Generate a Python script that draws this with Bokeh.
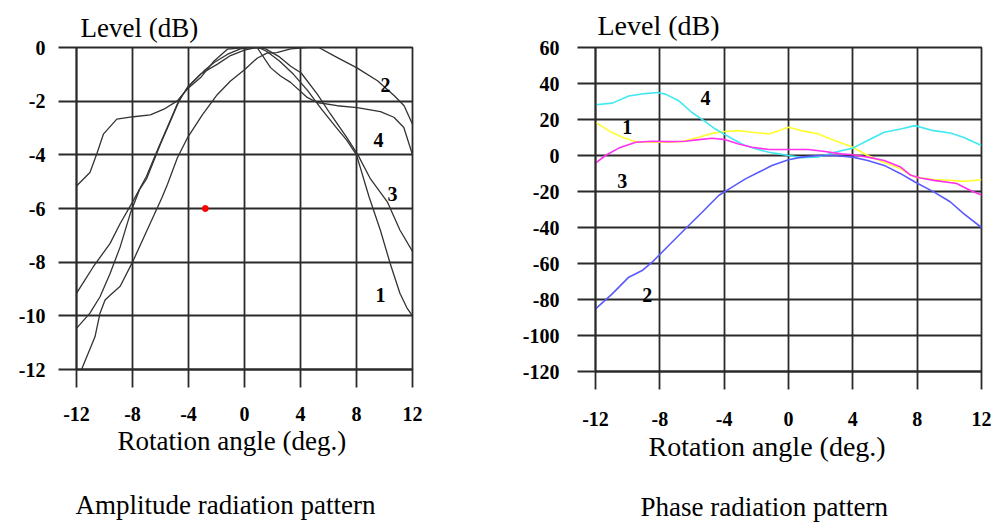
from bokeh.plotting import figure
from bokeh.layouts import row
from bokeh.models import FixedTicker, Range1d, Title, Label
from bokeh.embed import file_html
from bokeh.resources import INLINE

FONT = "Liberation Serif"

# ---------------- data: amplitude radiation pattern ----------------
x_ticks = [-12, -8, -4, 0, 4, 8, 12]
amp_ticks = [-12, -10, -8, -6, -4, -2, 0]

amp1_x = [-12, -11.04, -10.32, -9.6, -8.88, -8.16, -7.5, -7.0, -6.0, -5.28, -4.57, -3.85, -2.89, -2.17,
          -1.2, -0.3, 0.5, 1.0, 1.6, 2.5, 3.5, 4.5, 5.5, 6.5, 7.3, 8.0, 8.9, 9.7, 10.4, 11.1, 11.6, 12]
amp1_y = [-10.47, -9.9, -9.29, -8.42, -7.43, -6.19, -5.3, -4.9, -3.6, -2.73, -1.86, -1.37, -0.87, -0.56,
          -0.25, -0.05, 0.0, 0.0, -0.15, -0.5, -1.0, -1.6, -2.3, -2.95, -3.45, -4.0, -5.57, -6.8, -8.04, -9.16, -9.7, -10.0]

amp2_x = [-11.64, -10.68, -10.32, -9.96, -9.6, -8.88, -8.0, -6.96, -5.9, -5.5, -4.8, -4.09, -3.0, -1.95,
          -1.0, 0.0, 0.9, 1.6, 2.3, 3.3, 4.5, 5.3, 6.6, 8.0, 9.5, 10.7, 11.4, 12]
amp2_y = [-12.0, -10.78, -9.9, -9.41, -9.23, -8.9, -8.0, -6.81, -5.6, -5.1, -4.12, -3.38, -2.5, -1.76,
          -1.25, -0.83, -0.4, -0.21, -0.19, -0.05, 0.0, 0.0, -0.37, -0.75, -1.24, -1.8, -2.17, -2.86]

amp3_x = [-12, -10.8, -9.6, -8.88, -7.92, -7.0, -6.24, -5.52, -4.8, -4.09, -3.13, -1.93, -1.0, 0.0, 0.8,
          1.5, 2.5, 3.3, 4.05, 5.2, 6.1, 7.3, 8.1, 9.0, 10.2, 11.1, 12]
amp3_y = [-9.16, -8.17, -7.3, -6.56, -5.69, -4.8, -3.85, -2.98, -2.11, -1.49, -0.99, -0.62, -0.3, -0.1, 0.0,
          -0.05, -0.35, -0.7, -0.95, -1.74, -2.45, -3.35, -4.0, -4.9, -5.75, -6.8, -7.6]

amp4_x = [-12, -11.04, -10.56, -10.08, -9.12, -7.92, -6.72, -5.76, -4.8, -4.09, -3.13, -2.17, -1.2, 0.0,
          0.9, 1.86, 2.57, 3.29, 4.48, 5.19, 6.62, 8.05, 9.71, 10.67, 11.38, 12]
amp4_y = [-5.16, -4.66, -3.98, -3.23, -2.67, -2.58, -2.51, -2.3, -1.99, -1.55, -1.12, -0.5, -0.06, 0.0,
          0.0, -0.75, -1.06, -1.3, -1.86, -2.05, -2.17, -2.24, -2.39, -2.6, -2.98, -4.0]

amp_marker_x = [-2.8]
amp_marker_y = [-6.0]

amp_label_text = ["2", "4", "3", "1"]
amp_label_x = [10.07, 9.57, 10.57, 9.71]
amp_label_y = [-1.38, -3.46, -5.47, -9.24]

# ---------------- data: phase radiation pattern ----------------
ph_ticks = [-120, -100, -80, -60, -40, -20, 0, 20, 40, 60]

ph1_x = [-12, -11.17, -10.34, -9.5, -8.48, -7.65, -6.62, -5.58, -4.75, -3.93, -3.1, -2.27, -1.23, -0.6, 0,
         0.82, 1.85, 2.87, 4.0, 4.92, 5.95, 6.97, 7.86, 9.03, 10.05, 10.87, 12]
ph1_y = [18.4, 13.8, 10.1, 7.7, 7.4, 7.4, 7.7, 10.1, 12.3, 13.3, 13.8, 12.9, 12.0, 13.8, 15.7,
         13.8, 12.0, 8.3, 4.6, 0.0, -3.7, -7.4, -12.0, -13.3, -13.8, -14.4, -13.5]

ph2_x = [-12, -10.96, -9.93, -9.1, -8.48, -7.45, -6.41, -5.37, -4.34, -3.51, -2.68, -1.86, -1.03, 0,
         0.82, 1.85, 2.87, 4.0, 4.92, 5.95, 6.97, 7.86, 9.03, 10.05, 10.87, 12]
ph2_y = [-85.2, -76.9, -67.6, -63.9, -59.3, -50.0, -40.7, -31.5, -22.2, -17.6, -13.0, -9.3, -5.6, -2.4,
         -0.9, 0.0, 0.0, -0.9, -2.8, -5.5, -10.1, -14.7, -20.2, -25.7, -32.1, -40.0]

ph3_x = [-12, -11.38, -10.55, -9.5, -8.48, -7.45, -6.41, -5.58, -4.75, -3.93, -3.1, -2.27, -1.23, 0,
         1.23, 2.26, 3.28, 4.0, 4.92, 5.95, 6.97, 7.6, 8.2, 9.03, 10.46, 11.28, 12]
ph3_y = [-4.2, 0.0, 4.1, 7.4, 7.9, 7.7, 7.9, 8.8, 9.6, 8.8, 6.4, 4.6, 3.3, 3.3,
         3.3, 2.2, 0.9, 0.4, -0.9, -2.8, -6.4, -11.0, -12.5, -13.8, -15.6, -19.3, -22.0]

ph4_x = [-12, -10.96, -9.93, -8.9, -8.17, -7.65, -6.82, -6.0, -5.17, -4.55, -4.03, -3.3, -2.68, -2.06,
         -1.23, -0.6, 0, 0.82, 1.85, 2.87, 4.0, 4.92, 5.95, 6.97, 7.86, 9.03, 10.05, 10.87, 12]
ph4_y = [28.2, 29.1, 33.1, 34.4, 35.0, 34.1, 30.4, 23.9, 18.8, 14.7, 12.0, 8.3, 5.5, 3.7,
         1.8, 0.9, 0.0, -1.2, -0.8, 1.8, 4.1, 8.3, 12.9, 14.7, 16.6, 13.8, 12.5, 10.1, 5.5]

ph_label_text = ["4", "1", "3", "2"]
ph_label_x = [-5.16, -10.03, -10.34, -8.78]
ph_label_y = [31.8, 15.6, -14.4, -77.4]

GRID = "#2a2a2a"


def tick_text(v):
    return str(v)  # plain ASCII hyphen-minus, as in the reference


def make_fig(fw, fh, yr, yticks, bl, bt, br, bb, standoff_x, standoff_y):
    p = figure(frame_width=fw, frame_height=fh, x_range=Range1d(-12, 12), y_range=Range1d(*yr),
               output_backend="svg", toolbar_location=None, title=None,
               min_border_left=bl, min_border_top=bt, min_border_right=br, min_border_bottom=bb)
    p.background_fill_color = "white"
    p.border_fill_color = "white"
    p.outline_line_color = GRID
    p.outline_line_width = 1.8
    for ax in (p.xaxis[0], p.yaxis[0]):
        ax.major_tick_out = 18
        ax.major_tick_in = 0
        ax.minor_tick_line_color = None
        ax.major_tick_line_color = GRID
        ax.major_tick_line_width = 1.8
        ax.axis_line_color = GRID
        ax.axis_line_width = 1.8
        ax.major_label_text_font = FONT
        ax.major_label_text_font_size = "20px"
        ax.major_label_text_font_style = "bold"
        ax.major_label_text_color = "black"
    p.xaxis[0].ticker = FixedTicker(ticks=x_ticks)
    p.yaxis[0].ticker = FixedTicker(ticks=yticks)
    p.xaxis[0].major_label_overrides = {v: tick_text(v) for v in x_ticks}
    p.yaxis[0].major_label_overrides = {v: tick_text(v) for v in yticks}
    p.xaxis[0].major_label_standoff = standoff_x
    p.yaxis[0].major_label_standoff = standoff_y
    p.xgrid[0].ticker = FixedTicker(ticks=x_ticks)
    p.ygrid[0].ticker = FixedTicker(ticks=yticks)
    for g in (p.xgrid[0], p.ygrid[0]):
        g.grid_line_color = GRID
        g.grid_line_width = 1.8
        g.grid_line_alpha = 1.0
    return p


def add_title(p, text, where, offset, standoff, size="27px"):
    p.add_layout(Title(text=text, align="left", offset=offset, standoff=standoff,
                       text_font=FONT, text_font_size=size, text_font_style="normal",
                       text_color="black"), where)


def add_curve_label(p, x, y, text):
    p.add_layout(Label(x=x, y=y, text=text, text_font=FONT, text_font_size="20px",
                       text_font_style="bold", text_align="center", text_baseline="middle",
                       text_color="black"))


# ---------------- left figure ----------------
p1 = make_fig(336, 322, (-12, 0), amp_ticks, 76, 46, 60, 160, 19, 13)
for xs, ys in ((amp1_x, amp1_y), (amp2_x, amp2_y), (amp3_x, amp3_y), (amp4_x, amp4_y)):
    p1.line(xs, ys, line_color="#333333", line_width=1.3)
p1.scatter(amp_marker_x, amp_marker_y, size=6, color="red")
for t, x, y in zip(amp_label_text, amp_label_x, amp_label_y):
    add_curve_label(p1, x, y, t)
add_title(p1, "Level (dB)", "above", 4, 10)
add_title(p1, "Rotation angle (deg.)", "below", 41, 0)
add_title(p1, "Amplitude radiation pattern", "below", -1, 64)

# ---------------- right figure ----------------
p2 = make_fig(386, 324, (-120, 60), ph_ticks, 123, 47, 18, 157, 22, 18)
p2.line(ph1_x, ph1_y, line_color="#ffff30", line_width=1.6)
p2.line(ph4_x, ph4_y, line_color="#40e8f0", line_width=1.6)
p2.line(ph3_x, ph3_y, line_color="#ff30f0", line_width=1.6)
p2.line(ph2_x, ph2_y, line_color="#5a5aff", line_width=1.6)
for t, x, y in zip(ph_label_text, ph_label_x, ph_label_y):
    add_curve_label(p2, x, y, t)
add_title(p2, "Level (dB)", "above", 2, 13, "28px")
add_title(p2, "Rotation angle (deg.)", "below", 53, 0, "28px")
add_title(p2, "Phase radiation pattern", "below", 45, 56)

layout = row(p1, p2)
open("out.html", "w").write(file_html(layout, INLINE))
